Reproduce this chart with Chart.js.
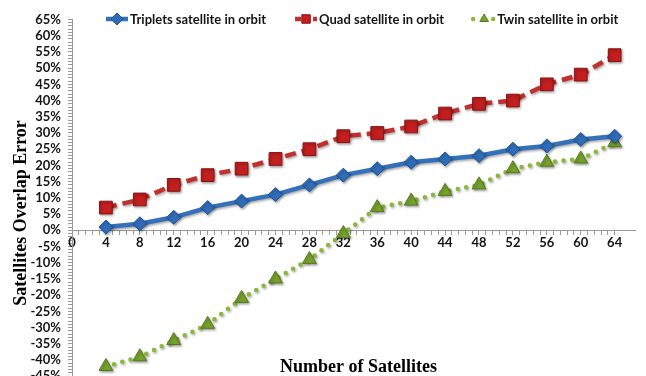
<!DOCTYPE html>
<html>
<head>
<meta charset="utf-8">
<script src="https://cdn.jsdelivr.net/npm/chart.js@4.4.1/dist/chart.umd.min.js"></script>
<style>
  html, body { margin: 0; padding: 0; background: #fff; overflow: hidden; width: 646px; height: 376px; }
  #wrap { position: relative; width: 646px; height: 391px; }
</style>
</head>
<body>
<div id="wrap"><canvas id="chart"></canvas></div>
<script>
// Number of satellites on the x axis
const satelliteCounts = [4, 8, 12, 16, 20, 24, 28, 32, 36, 40, 44, 48, 52, 56, 60, 64];

// Overlap error (%) for each constellation layout
const tripletsError = [1, 2, 4, 7, 9, 11, 14, 17, 19, 21, 22, 23, 25, 26, 28, 29];
const quadError     = [7, 9.5, 14, 17, 19, 22, 25, 29, 30, 32, 36, 39, 40, 45, 48, 54];
const twinError     = [-42, -39, -34, -29, -21, -15, -9, -1, 7, 9, 12, 14, 19, 21, 22, 27];

const seriesNames = ['Triplets satellite in orbit', 'Quad satellite in orbit', 'Twin satellite in orbit'];

// Labelled tick values
const xTickLabels = [0, 4, 8, 12, 16, 20, 24, 28, 32, 36, 40, 44, 48, 52, 56, 60, 64];
const yTickLabels = [-45, -40, -35, -30, -25, -20, -15, -10, -5, 0, 5, 10, 15, 20, 25, 30, 35, 40, 45, 50, 55, 60, 65];

const xTitle = 'Number of Satellites';
const yTitle = 'Satellites Overlap Error';

const tickFont = { family: 'Lato', weight: 'bold', size: 13 };
const axisGray = '#9a9a9a';

// major labels plus evenly spaced minor tick marks between them
function withMinorTicks(majors, parts) {
  const out = [];
  for (let i = 0; i < majors.length - 1; i++) {
    const a = majors[i], b = majors[i + 1];
    for (let k = 0; k < parts; k++) out.push({ value: +(a + (b - a) * k / parts).toFixed(4) });
  }
  out.push({ value: majors[majors.length - 1] });
  return out;
}
const isMajor = (list, v) => list.some(m => Math.abs(m - v) < 1e-6);

// soft drop shadow under the series
const shadowPlugin = {
  id: 'seriesShadow',
  beforeDatasetsDraw(chart) {
    const ctx = chart.ctx;
    ctx.save();
    ctx.shadowColor = 'rgba(0,0,0,0.35)';
    ctx.shadowBlur = 2.5;
    ctx.shadowOffsetX = 1.2;
    ctx.shadowOffsetY = 1.5;
  },
  afterDatasetsDraw(chart) { chart.ctx.restore(); }
};

// legend row and axis titles drawn over the plot
const overlayPlugin = {
  id: 'overlay',
  afterDraw(chart) {
    const ctx = chart.ctx;
    const area = chart.chartArea;
    ctx.save();

    // legend
    ctx.font = 'bold 13px Lato';
    ctx.textBaseline = 'middle';
    ctx.textAlign = 'left';
    let x = 105;
    const y = 19;
    chart.data.datasets.forEach(ds => {
      ctx.save();
      ctx.strokeStyle = ds.borderColor;
      ctx.lineWidth = ds.borderWidth;
      ctx.setLineDash(ds.legendDash || []);
      ctx.lineCap = ds.borderCapStyle || 'butt';
      ctx.beginPath();
      ctx.moveTo(x + 1, y);
      ctx.lineTo(x + 23, y);
      ctx.stroke();
      ctx.restore();
      ctx.save();
      ctx.fillStyle = ds.pointBackgroundColor;
      ctx.strokeStyle = ds.pointBorderColor;
      Chart.helpers.drawPoint(ctx, { pointStyle: ds.pointStyle, radius: ds.legendRadius, borderWidth: 1, rotation: 0 }, x + 12, y);
      ctx.restore();
      ctx.fillStyle = '#151515';
      ctx.fillText(ds.label, x + 25, y + 0.5);
      x += 25 + ctx.measureText(ds.label).width + 28;
    });

    // axis titles
    ctx.fillStyle = '#000';
    ctx.font = 'bold 18px "Liberation Serif"';
    ctx.textAlign = 'center';
    ctx.fillText(xTitle, (area.left + area.right) / 2 + 5, 367);
    ctx.translate(21, 213);
    ctx.rotate(-Math.PI / 2);
    ctx.fillText(yTitle, 0, 0);
    ctx.restore();
  }
};

new Chart(document.getElementById('chart'), {
  type: 'line',
  data: {
    datasets: [
      {
        label: seriesNames[0],
        data: satelliteCounts.map((n, i) => ({ x: n, y: tripletsError[i] })),
        borderColor: '#3471BA',
        borderWidth: 4.5,
        pointStyle: 'rectRot',
        pointRadius: 7,
        pointHoverRadius: 7,
        pointBackgroundColor: '#2F6DB9',
        pointBorderColor: '#1E5396',
        pointBorderWidth: 1,
        legendRadius: 6,
        tension: 0
      },
      {
        label: seriesNames[1],
        data: satelliteCounts.map((n, i) => ({ x: n, y: quadError[i] })),
        borderColor: '#C2302D',
        borderWidth: 4.5,
        borderDash: [11, 6],
        legendDash: [6, 3],
        pointStyle: 'rect',
        pointRadius: 9,
        pointHoverRadius: 9,
        pointBackgroundColor: '#C41F1F',
        pointBorderColor: '#8A1313',
        pointBorderWidth: 1,
        legendRadius: 6,
        tension: 0
      },
      {
        label: seriesNames[2],
        data: satelliteCounts.map((n, i) => ({ x: n, y: twinError[i] })),
        borderColor: '#8AB83A',
        borderWidth: 4.5,
        borderDash: [0, 8.5],
        legendDash: [0, 10],
        borderCapStyle: 'round',
        pointStyle: 'triangle',
        pointRadius: 8,
        pointHoverRadius: 8,
        pointBackgroundColor: '#77A22C',
        pointBorderColor: '#587C1C',
        pointBorderWidth: 1,
        legendRadius: 5,
        tension: 0
      }
    ]
  },
  options: {
    responsive: true,
    maintainAspectRatio: false,
    animation: false,
    events: [],
    layout: { padding: { top: 19.5, bottom: 10, left: 0, right: 11 } },
    plugins: { legend: { display: false }, tooltip: { enabled: false } },
    scales: {
      x: {
        type: 'linear',
        position: { y: 0 },
        min: 0,
        max: 66.4,
        afterBuildTicks: s => { s.ticks = withMinorTicks(xTickLabels, 5); },
        ticks: {
          autoSkip: false,
          maxRotation: 0,
          padding: 1,
          color: '#151515',
          font: tickFont,
          callback: v => isMajor(xTickLabels, v) ? String(v) : ''
        },
        grid: { drawOnChartArea: false, tickLength: 4, color: axisGray, lineWidth: 1 },
        border: { display: true, color: axisGray, width: 1 }
      },
      y: {
        type: 'linear',
        position: 'left',
        min: -45,
        max: 65,
        afterFit: s => { s.width = 72; },
        afterBuildTicks: s => { s.ticks = withMinorTicks(yTickLabels, 5); },
        ticks: {
          autoSkip: false,
          padding: 7,
          color: '#151515',
          font: tickFont,
          callback: v => isMajor(yTickLabels, v) ? v + '%' : ''
        },
        grid: { drawOnChartArea: false, tickLength: 4, color: axisGray, lineWidth: 1 },
        border: { display: true, color: axisGray, width: 1 }
      }
    }
  },
  plugins: [shadowPlugin, overlayPlugin]
});
</script>
</body>
</html>
